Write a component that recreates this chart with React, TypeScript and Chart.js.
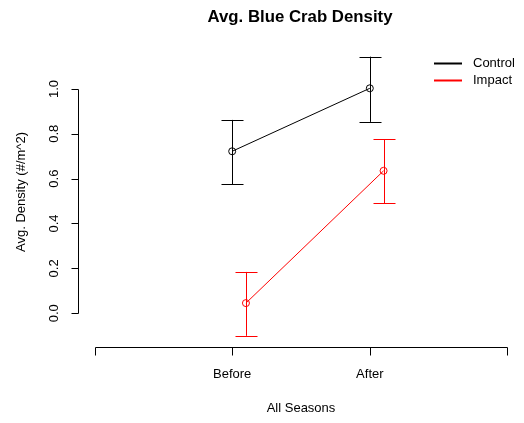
import { useEffect, useRef } from "react";
import { Chart, registerables } from "chart.js";

Chart.register(...registerables);

// Seasons on the x axis and where they sit on the numeric scale
const seasons = ["Before", "After"];
const seasonPositions = [1, 2];
const axisTickPositions = [0, 1, 2, 3];
const impactShift = 0.1;

// Mean density and error bar bounds per group
const controlMean = [0.722, 1.003];
const controlLow = [0.576, 0.853];
const controlHigh = [0.862, 1.144];

const impactMean = [0.045, 0.635];
const impactLow = [-0.101, 0.49];
const impactHigh = [0.184, 0.775];

const yTicks = [0, 0.2, 0.4, 0.6, 0.8, 1.0];
const yTickLabels = ["0.0", "0.2", "0.4", "0.6", "0.8", "1.0"];

const groups = [
  { name: "Control", color: "#000000", mean: controlMean, low: controlLow, high: controlHigh, shift: 0 },
  { name: "Impact", color: "#ff0000", mean: impactMean, low: impactLow, high: impactHigh, shift: impactShift },
];

const FONT = "'Liberation Sans', Arial, Helvetica, sans-serif";

// y range padded by 4% beyond the error bars, x range padded by 4% beyond the axis ticks
const allLow = Math.min(...controlLow, ...impactLow);
const allHigh = Math.max(...controlHigh, ...impactHigh);
const yPad = (allHigh - allLow) * 0.04;
const xMinTick = Math.min(...axisTickPositions);
const xMaxTick = Math.max(...axisTickPositions);
const xPad = (xMaxTick - xMinTick) * 0.04;

const crisp = (v: number) => Math.round(v) + 0.5;

const decorations = {
  id: "baseDecorations",
  afterDatasetsDraw(chart: any) {
    const ctx: CanvasRenderingContext2D = chart.ctx;
    const xs = chart.scales.x;
    const ys = chart.scales.y;
    const area = chart.chartArea;
    ctx.save();

    // error bars with caps
    const capHalf = 11;
    groups.forEach((g) => {
      ctx.strokeStyle = g.color;
      ctx.lineWidth = 1;
      g.mean.forEach((_, i) => {
        const px = crisp(xs.getPixelForValue(seasonPositions[i] + g.shift));
        const top = ys.getPixelForValue(g.high[i]);
        const bot = ys.getPixelForValue(g.low[i]);
        ctx.beginPath();
        ctx.moveTo(px, top);
        ctx.lineTo(px, bot);
        ctx.moveTo(px - capHalf, crisp(top));
        ctx.lineTo(px + capHalf, crisp(top));
        ctx.moveTo(px - capHalf, crisp(bot));
        ctx.lineTo(px + capHalf, crisp(bot));
        ctx.stroke();
      });
    });

    // axes
    ctx.strokeStyle = "#000000";
    ctx.fillStyle = "#000000";
    ctx.lineWidth = 1;

    // y axis
    const yAxisX = crisp(area.left);
    const yTop = ys.getPixelForValue(yTicks[yTicks.length - 1]);
    const yBot = ys.getPixelForValue(yTicks[0]);
    ctx.beginPath();
    ctx.moveTo(yAxisX, crisp(yTop));
    ctx.lineTo(yAxisX, crisp(yBot));
    yTicks.forEach((t) => {
      const py = crisp(ys.getPixelForValue(t));
      ctx.moveTo(yAxisX - 7, py);
      ctx.lineTo(yAxisX, py);
    });
    ctx.stroke();

    ctx.font = `13px ${FONT}`;
    ctx.textAlign = "center";
    ctx.textBaseline = "middle";
    yTicks.forEach((t, i) => {
      const py = ys.getPixelForValue(t);
      ctx.save();
      ctx.translate(54, py);
      ctx.rotate(-Math.PI / 2);
      ctx.fillText(yTickLabels[i], 0, 0);
      ctx.restore();
    });

    // x axis
    const xAxisY = crisp(area.bottom);
    ctx.beginPath();
    ctx.moveTo(crisp(xs.getPixelForValue(xMinTick)), xAxisY);
    ctx.lineTo(crisp(xs.getPixelForValue(xMaxTick)), xAxisY);
    axisTickPositions.forEach((t) => {
      const px = crisp(xs.getPixelForValue(t));
      ctx.moveTo(px, xAxisY);
      ctx.lineTo(px, xAxisY + 8);
    });
    ctx.stroke();

    ctx.textBaseline = "middle";
    seasons.forEach((s, i) => {
      ctx.fillText(s, xs.getPixelForValue(seasonPositions[i]), 374);
    });

    // axis titles
    const midX = (area.left + area.right) / 2;
    ctx.fillText("All Seasons", midX, 408);
    ctx.save();
    ctx.translate(21, 192);
    ctx.rotate(-Math.PI / 2);
    ctx.fillText("Avg. Density (#/m^2)", 0, 0);
    ctx.restore();

    // main title
    ctx.font = `bold 16.8px ${FONT}`;
    ctx.textBaseline = "alphabetic";
    ctx.fillText("Avg. Blue Crab Density", midX - 1, 21.5);

    // legend
    ctx.font = `13px ${FONT}`;
    ctx.textAlign = "left";
    ctx.textBaseline = "middle";
    groups.forEach((g, i) => {
      const ly = 63.5 + i * 17;
      ctx.strokeStyle = g.color;
      ctx.lineWidth = 2;
      ctx.beginPath();
      ctx.moveTo(434, ly);
      ctx.lineTo(462, ly);
      ctx.stroke();
      ctx.fillStyle = "#000000";
      ctx.fillText(g.name, 473, ly);
    });

    ctx.restore();
  },
};

export default function App() {
  const canvasRef = useRef<HTMLCanvasElement | null>(null);

  useEffect(() => {
    document.body.style.margin = "0";
    const canvas = canvasRef.current;
    if (!canvas) return;

    const chart = new Chart(canvas, {
      type: "line",
      data: {
        datasets: groups.map((g) => ({
          label: g.name,
          data: g.mean.map((m, i) => ({ x: seasonPositions[i] + g.shift, y: m })),
          borderColor: g.color,
          borderWidth: 1,
          backgroundColor: "rgba(0,0,0,0)",
          pointBackgroundColor: "rgba(0,0,0,0)",
          pointBorderColor: g.color,
          pointBorderWidth: 1,
          pointRadius: 3.5,
          pointStyle: "circle",
          tension: 0,
          fill: false,
        })),
      },
      options: {
        responsive: false,
        animation: false,
        devicePixelRatio: 1,
        layout: { autoPadding: false, padding: { left: 78, right: 0, top: 45.5, bottom: 76 } },
        scales: {
          x: { type: "linear", display: false, min: xMinTick - xPad, max: xMaxTick + xPad },
          y: { type: "linear", display: false, min: allLow - yPad, max: allHigh + yPad },
        },
        plugins: {
          legend: { display: false },
          title: { display: false },
          tooltip: { enabled: false },
        },
      },
      plugins: [decorations],
    });

    return () => chart.destroy();
  }, []);

  return (
    <div style={{ position: "absolute", left: 0, top: 0, width: 524, height: 423, background: "#ffffff" }}>
      <canvas ref={canvasRef} width={524} height={423} style={{ display: "block" }} />
    </div>
  );
}
